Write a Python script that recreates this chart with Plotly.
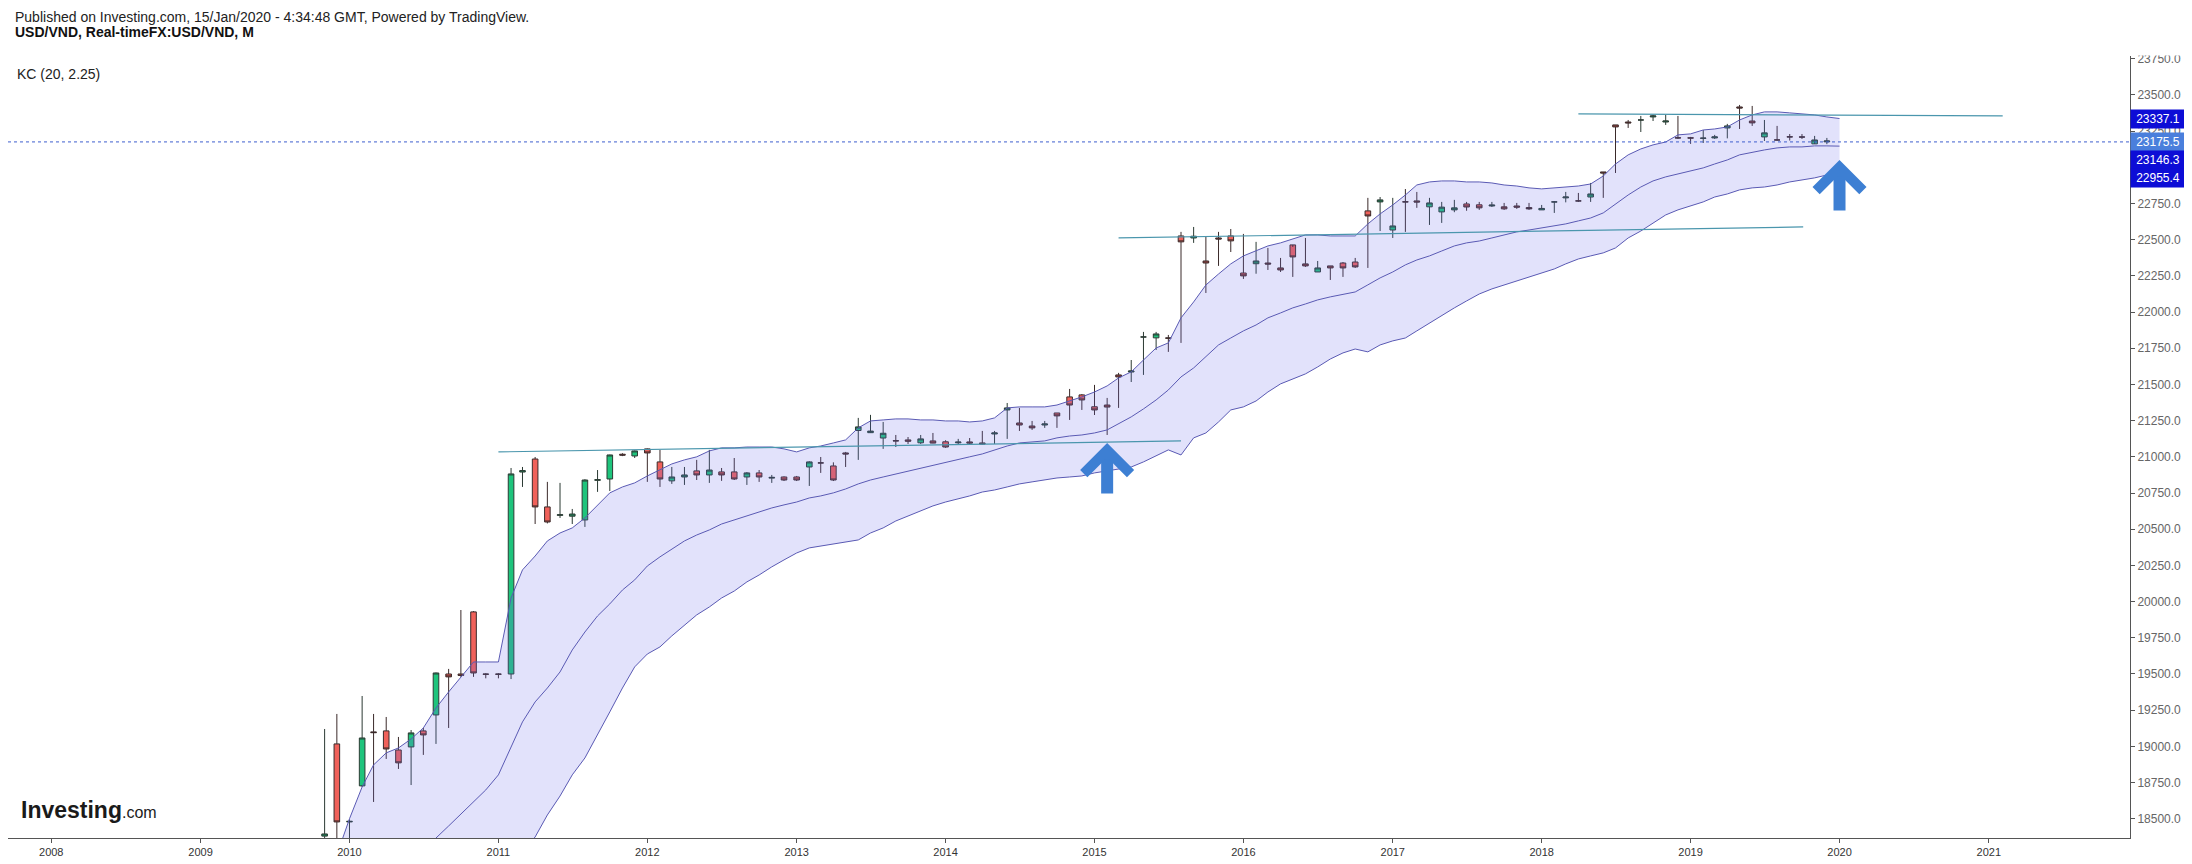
import pandas as pd
import plotly.graph_objects as go

# monthly candles, Nov 2009 .. Jan 2020
dates = pd.date_range("2009-11-01", periods=123, freq="MS")

opens = [
    18380, 19017, 18478, 18727, 19100, 19107, 18975, 18996, 19107, 19217, 19500, 19500, 19929, 19500, 19500,
    19500, 20895, 20985, 20654, 20596, 20590, 20564, 20838, 20847, 21018, 21006,
    21055, 20965, 20834, 20861, 20903, 20875, 20896, 20896, 20861, 20889, 20853, 20861,
    20861, 20930, 20958, 20937, 21027, 21182, 21167, 21130, 21112, 21117, 21097, 21110,
    21104, 21097, 21103, 21096, 21158, 21324, 21234, 21213, 21220, 21303, 21414, 21428,
    21346, 21358, 21566, 21586, 21828, 21822, 21821, 22526, 22512, 22353, 22512, 22526,
    22270, 22334, 22339, 22305, 22464, 22333, 22277, 22319, 22339, 22346, 22699, 22761,
    22567, 22762, 22768, 22727, 22692, 22706, 22747, 22741, 22733, 22727, 22733, 22722,
    22706, 22761, 22789, 22768, 22795, 22968, 23293, 23313, 23327, 23348, 23313, 23204,
    23204, 23200, 23203, 23272, 23417, 23320, 23210, 23189, 23211, 23210, 23162, 23176,
]
highs = [
    19120, 19224, 18495, 19348, 19224, 19203, 19065, 19113, 19127, 19510, 19535, 19942, 19935, 19505, 19505,
    20923, 20930, 20999, 20827, 20820, 20640, 20845, 20909, 21015, 21025, 21045,
    21058, 21048, 20930, 20930, 20979, 21048, 20923, 20992, 20895, 20909, 20875, 20865,
    20868, 20970, 20999, 20962, 21034, 21269, 21290, 21241, 21151, 21137, 21151, 21165,
    21115, 21124, 21130, 21179, 21179, 21372, 21338, 21248, 21248, 21303, 21469, 21434,
    21497, 21407, 21580, 21669, 21863, 21863, 21842, 22554, 22588, 22519, 22554, 22574,
    22540, 22485, 22443, 22374, 22450, 22512, 22353, 22319, 22346, 22374, 22789, 22795,
    22789, 22850, 22830, 22789, 22761, 22775, 22761, 22761, 22761, 22754, 22754, 22754,
    22740, 22765, 22830, 22823, 22892, 22968, 23293, 23327, 23355, 23362, 23362, 23355,
    23210, 23258, 23224, 23300, 23431, 23424, 23327, 23286, 23230, 23230, 23217, 23203,
    23203,
]
lows = [
    18300, 18300, 18330, 18720, 18616, 18913, 18844, 18733, 18941, 19017, 19127, 19480, 19480, 19470, 19470,
    19465, 20792, 20536, 20540, 20578, 20536, 20516, 20758, 20764, 21005, 20992,
    20827, 20792, 20813, 20806, 20840, 20820, 20834, 20840, 20806, 20827, 20820, 20833,
    20833, 20799, 20889, 20833, 20930, 20979, 21170, 21055, 21068, 21089, 21089, 21094,
    21062, 21082, 21082, 21085, 21089, 21124, 21179, 21186, 21200, 21200, 21255, 21324,
    21289, 21151, 21338, 21517, 21566, 21738, 21725, 21787, 22478, 22132, 22319, 22415,
    22229, 22265, 22291, 22277, 22243, 22312, 22277, 22222, 22243, 22305, 22305, 22560,
    22512, 22554, 22720, 22602, 22616, 22690, 22700, 22706, 22726, 22706, 22713, 22706,
    22706, 22685, 22758, 22761, 22761, 22789, 22961, 23272, 23244, 23320, 23293, 23196,
    23162, 23168, 23196, 23200, 23265, 23286, 23182, 23185, 23185, 23196, 23185, 23160,
    23168,
]
closes = [
    18395, 18478, 18482, 19058, 19095, 18982, 18886, 19093, 19079, 19507, 19480, 19490, 19507, 19498, 19498,
    20882, 20905, 20654, 20550, 20600, 20605, 20840, 20842, 21013, 21012, 21041,
    21027, 20847, 20861, 20875, 20875, 20909, 20875, 20847, 20889, 20861, 20858, 20840,
    20840, 20965, 20958, 20840, 21020, 21207, 21178, 21163, 21110, 21108, 21124, 21095,
    21068, 21102, 21095, 21089, 21165, 21338, 21220, 21200, 21227, 21283, 21358, 21393,
    21324, 21344, 21552, 21593, 21828, 21849, 21820, 22485, 22524, 22339, 22505, 22492,
    22250, 22353, 22332, 22291, 22381, 22319, 22305, 22305, 22305, 22312, 22664, 22775,
    22595, 22761, 22760, 22754, 22725, 22720, 22726, 22720, 22739, 22713, 22725, 22713,
    22716, 22761, 22795, 22768, 22816, 22961, 23279, 23307, 23327, 23355, 23320, 23203,
    23202, 23202, 23210, 23286, 23410, 23307, 23238, 23189, 23210, 23209, 23189, 23182,
    23175.5,
]

# Keltner channel KC(20, 2.25)
kc_upper = [
    18050, 18250, 18500, 18720, 18872, 18955, 18989, 19051, 19127, 19265, 19376, 19480, 19583, 19583, 19583,
    20025, 20219, 20315, 20419, 20474, 20509, 20578, 20668, 20751, 20792, 20820,
    20868, 20910, 20951, 20979, 21000, 21041, 21062, 21062, 21068, 21068, 21068, 21055,
    21034, 21062, 21075, 21096, 21117, 21200, 21248, 21255, 21262, 21262, 21255, 21255,
    21248, 21248, 21241, 21248, 21269, 21338, 21345, 21345, 21345, 21358, 21386, 21414,
    21448, 21490, 21545, 21587, 21669, 21752, 21787, 21960, 22070, 22187, 22263, 22333,
    22388, 22422, 22457, 22478, 22505, 22533, 22533, 22526, 22526, 22526, 22609, 22678,
    22740, 22809, 22878, 22899, 22906, 22906, 22899, 22899, 22892, 22878, 22871, 22858,
    22851, 22858, 22864, 22871, 22885, 22940, 23023, 23086, 23127, 23155, 23175, 23224,
    23231, 23258, 23265, 23279, 23327, 23362, 23383, 23383, 23376, 23369, 23362, 23348,
    23337.1,
]
kc_middle = [
    17500, 17600, 17700, 17800, 17900, 18000, 18080, 18160, 18250,
    18367, 18450, 18533, 18616, 18699,
    18803, 18989, 19169, 19307, 19403, 19514, 19666, 19790, 19901, 19984, 20080, 20150,
    20246, 20309, 20364, 20419, 20460, 20495, 20536, 20564, 20592, 20619, 20647, 20668,
    20688, 20716, 20730, 20751, 20778, 20813, 20840, 20861, 20882, 20903, 20923, 20944,
    20965, 20986, 21000, 21020, 21048, 21075, 21096, 21103, 21110, 21131, 21144, 21151,
    21165, 21186, 21227, 21276, 21331, 21393, 21462, 21552, 21614, 21690, 21773, 21821,
    21870, 21911, 21960, 21994, 22029, 22056, 22084, 22105, 22125, 22139, 22188, 22236,
    22277, 22326, 22360, 22388, 22422, 22457, 22478, 22491, 22512, 22533, 22554, 22567,
    22581, 22595, 22609, 22630, 22650, 22685, 22747, 22809, 22864, 22906, 22934, 22954,
    22975, 22996, 23023, 23051, 23086, 23106, 23120, 23134, 23141, 23141, 23148, 23148,
    23146.3,
]
kc_lower = [
    16900, 17000, 17100, 17200, 17300, 17400, 17500, 17600, 17700, 17800, 17880, 17950, 18000, 18050, 18100,
    18180, 18280,
    18374, 18526, 18657, 18803, 18920, 19079, 19238, 19403, 19549,
    19638, 19687, 19763, 19839, 19908, 19963, 20025, 20073, 20136, 20184, 20240, 20288,
    20336, 20371, 20385, 20398, 20412, 20426, 20474, 20509, 20557, 20592, 20626, 20661,
    20688, 20709, 20730, 20757, 20771, 20792, 20813, 20827, 20840, 20854, 20861, 20868,
    20889, 20903, 20917, 20930, 20965, 21006, 21048, 21013, 21131, 21165, 21241, 21324,
    21345, 21386, 21448, 21504, 21538, 21573, 21621, 21676, 21718, 21745, 21725, 21773,
    21801, 21821, 21870, 21925, 21973, 22029, 22077, 22125, 22160, 22187, 22215, 22243,
    22270, 22298, 22333, 22367, 22388, 22409, 22443, 22512, 22560, 22616, 22671, 22706,
    22733, 22761, 22795, 22816, 22844, 22858, 22864, 22878, 22899, 22913, 22927, 22947,
    22955.4,
]

# hand drawn trend lines
trend1_x = ["2011-01-01", "2015-08-01"]
trend1_y = [21034, 21110]
trend2_x = ["2015-03-01", "2019-10-04"]
trend2_y = [22512, 22588]
trend3_x = ["2018-04-01", "2021-02-04"]
trend3_y = [23369, 23355]

last_price = 23175.5
price_labels = [23337.1, 23175.5, 23146.3, 22955.4]
label_colors = ["#0d0dd6", "#4a7fdc", "#0d0dd6", "#0d0dd6"]
label_shift = [0, 0, -14, -4]  # stacked so they do not overlap

arrow_x = ["2015-02-01", "2020-01-01"]
arrow_y = [21096, 23051]

FONT = "Liberation Sans, Arial, sans-serif"
band_line = "#5a5ab4"
green = "#1ec47c"
red = "#f0615a"

fig = go.Figure()

fig.add_trace(
    go.Scatter(x=dates, y=kc_upper, mode="lines", line=dict(color=band_line, width=1),
               hoverinfo="skip", showlegend=False)
)
fig.add_trace(
    go.Scatter(x=dates, y=kc_lower, mode="lines", line=dict(color=band_line, width=1),
               fill="tonexty", fillcolor="rgba(110,110,235,0.2)", hoverinfo="skip", showlegend=False)
)
fig.add_trace(
    go.Scatter(x=dates, y=kc_middle, mode="lines", line=dict(color=band_line, width=1),
               hoverinfo="skip", showlegend=False)
)

for tx, ty in [(trend1_x, trend1_y), (trend2_x, trend2_y), (trend3_x, trend3_y)]:
    fig.add_trace(
        go.Scatter(x=tx, y=ty, mode="lines", line=dict(color="#4a96ad", width=1.2),
                   hoverinfo="skip", showlegend=False)
    )

fig.add_trace(
    go.Candlestick(
        x=dates, open=opens, high=highs, low=lows, close=closes,
        increasing=dict(fillcolor=green, line=dict(color="#2b3a33", width=1)),
        decreasing=dict(fillcolor=red, line=dict(color="#3a2a2a", width=1)),
        whiskerwidth=0,
        showlegend=False,
    )
)

# current price line
fig.add_shape(
    type="line", xref="paper", x0=0, x1=1, y0=last_price, y1=last_price,
    line=dict(color="#3f5fcf", width=1, dash="dot"),
)

for xv, yv in zip(arrow_x, arrow_y):
    fig.add_annotation(
        x=xv, y=yv, ax=0, ay=52, showarrow=True, arrowhead=4, arrowsize=0.75,
        arrowwidth=12, arrowcolor="#3d7fd3", text="",
    )

# white patch that cuts the top of the 23750.0 label like the pane edge does
fig.add_annotation(
    x=1, y=1, xref="paper", yref="paper", xanchor="left", yanchor="bottom",
    showarrow=False, text="&nbsp;", font=dict(size=4), bgcolor="white",
    width=56, height=8, borderpad=0, xshift=1,
)

for v, c, s in zip(price_labels, label_colors, label_shift):
    fig.add_annotation(
        x=1, xref="paper", y=v, yref="y", xanchor="left", showarrow=False,
        text=f"{v:.1f}", font=dict(family=FONT, size=12, color="white"),
        bgcolor=c, borderpad=1, width=52, height=16, align="center", yshift=s,
    )

fig.add_annotation(
    x=0.0025, y=1.0499, xref="paper", yref="paper", xanchor="left", yanchor="middle",
    showarrow=False, text="Published on Investing.com, 15/Jan/2020 - 4:34:48 GMT, Powered by TradingView.",
    font=dict(family=FONT, size=14, color="#222"),
)
fig.add_annotation(
    x=0.0025, y=1.0307, xref="paper", yref="paper", xanchor="left", yanchor="middle",
    showarrow=False, text="<b>USD/VND, Real-timeFX:USD/VND, M</b>",
    font=dict(family=FONT, size=14, color="#111"),
)
fig.add_annotation(
    x=0.0035, y=0.977, xref="paper", yref="paper", xanchor="left", yanchor="middle",
    showarrow=False, text="KC (20, 2.25)",
    font=dict(family=FONT, size=14, color="#222"),
)
fig.add_annotation(
    x=0.005, y=0.036, xref="paper", yref="paper", xanchor="left", yanchor="middle",
    showarrow=False,
    text="<b>Investing</b><span style='font-size:16px'>.com</span>",
    font=dict(family=FONT, size=23, color="#1a1a1a"),
)

# page body has an 8px margin, so the figure is sized to fit inside the window
fig.update_layout(
    width=2184,
    height=856,
    margin=dict(l=0, r=62, t=48, b=26),
    paper_bgcolor="white",
    plot_bgcolor="white",
    showlegend=False,
    xaxis=dict(
        range=["2007-09-17", "2021-12-13"],
        type="date",
        dtick="M12",
        tick0="2008-01-01",
        tickformat="%Y",
        ticks="outside",
        ticklen=4,
        tickcolor="#555",
        showline=True,
        linecolor="#555",
        linewidth=1,
        showgrid=False,
        zeroline=False,
        rangeslider=dict(visible=False),
        tickfont=dict(family=FONT, size=11, color="#333"),
    ),
    yaxis=dict(
        range=[18367, 23769],
        side="right",
        dtick=250,
        tick0=0,
        tickformat=".1f",
        ticks="outside",
        ticklen=4,
        tickcolor="#555",
        showline=True,
        linecolor="#555",
        linewidth=1,
        showgrid=False,
        zeroline=False,
        tickfont=dict(family=FONT, size=12, color="#666"),
    ),
)

fig.write_html("out.html")
